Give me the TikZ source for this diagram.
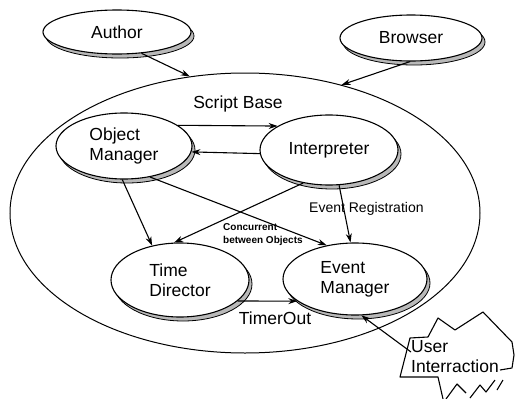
\documentclass[tikz,border=0pt]{standalone}
\usepackage{fontspec}
\setmainfont{Liberation Sans}
\usetikzlibrary{shapes.geometric,shadows,arrows.meta}
\begin{document}
\begin{tikzpicture}[x=1pt,y=-1pt,
  every node/.style={font=\fontsize{17.5}{20}\selectfont},
  proc/.style={ellipse, draw, line width=1.1pt, fill=white, inner sep=0pt, align=left,
    drop shadow={shadow xshift=3pt, shadow yshift=-4pt, fill=gray!55, draw=black, line width=0.8pt, opacity=1}},
  arr/.style={line width=1.1pt, -{Stealth[length=9pt,width=6pt]}},
  small/.style={font=\fontsize{14}{16}\selectfont},
  tiny/.style={font=\fontsize{10}{13}\selectfont\bfseries},
  cloudline/.style={line width=1.1pt, line join=round}
]
\useasboundingbox (0,0) rectangle (520,399);

% system boundary
\node[ellipse, draw, line width=1pt, minimum width=470pt, minimum height=280pt, inner sep=0pt] (big) at (245,213) {};

% components
\node[proc, minimum width=148pt, minimum height=44pt] (author) at (117,32) {Author};
\node[proc, minimum width=142pt, minimum height=46pt] (browser) at (411,38) {Browser};
\node[proc, minimum width=136pt, minimum height=66pt] (om) at (124,146) {Object\\Manager};
\node[proc, minimum width=138pt, minimum height=70pt] (ip) at (329,150) {Interpreter};
\node[proc, minimum width=138pt, minimum height=74pt] (td) at (180,280) {Time\\Director};
\node[proc, minimum width=144pt, minimum height=72pt] (em) at (355,279) {Event\\Manager};

% labels
\node (sb) at (238,104) {Script Base};
\node[small, anchor=west, inner sep=0pt] (er) at (309,209) {Event Registration};
\node[tiny, align=left, anchor=west, inner sep=0pt] (cc) at (223,235) {Concurrent\\between Objects};
\node (to) at (275,318) {TimerOut};

% external arrows
\draw[arr] (author.-41.5) -- (big.112);
\draw[arr] (browser.-92) -- (big.53);

% internal arrows
\draw[arr] (om.21) -- (ip.155);
\draw[arr] (ip.183) -- (om.-5.5);
\draw[arr] (om.-93) -- (td.129);
\draw[arr] (om.-50) -- (em.130);
\draw[arr] (ip.-128) -- (td.99);
\draw[arr] (ip.-74) -- (em.97);
\draw[arr] (td.-20.3) -- (em.201.1);

% user interaction cloud
\draw[cloudline] (443,399) -- (438,377) -- (400,377) -- (410,338) -- (428,337) -- (438,318)
  -- (455,330) -- (483,312) -- (512,342) -- (514,355) -- (512,368) -- (500,370);
\draw[cloudline] (446,399) -- (457,384) -- (466,393);
\draw[cloudline] (470,398) -- (480,385) -- (486,392) -- (495,380);
\draw[cloudline] (497,390) -- (503,380);
\node[align=left, anchor=west, inner sep=0pt] (ui) at (411,357) {User\\Interraction};
\coordinate (uis) at (411,352);
\draw[arr] (uis) -- (em.-80);
\end{tikzpicture}
\end{document}
